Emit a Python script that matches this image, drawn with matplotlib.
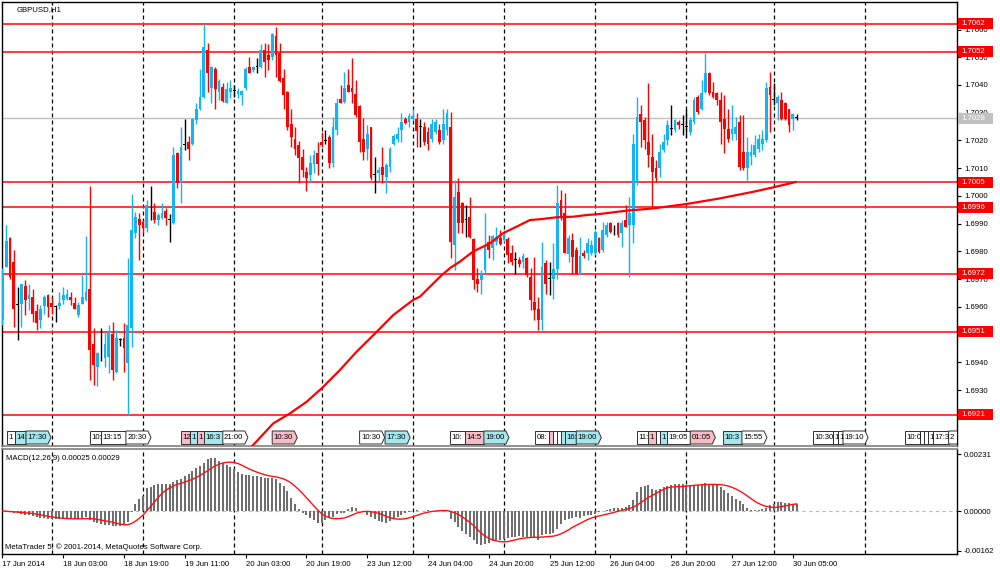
import matplotlib
matplotlib.use('Agg')
import matplotlib.pyplot as plt
from matplotlib.patches import Rectangle, Polygon
from matplotlib.transforms import blended_transform_factory
import numpy as np
import pandas as pd

plt.rcParams['font.family'] = ['Liberation Sans', 'DejaVu Sans']

# ---------------- data ----------------
symbol_title = "GBPUSD,H1"
macd_title = "MACD(12,26,9) 0.00025 0.00029"
copyright_text = "MetaTrader 5, \u00a9 2001-2014, MetaQuotes Software Corp."

opens = [1.69552,1.69744,1.69847,1.69763,1.69606,1.69612,1.69675,1.69630,1.69636,1.69586,
1.69552,1.69603,1.69642,1.69615,1.69600,1.69603,1.69624,1.69630,1.69636,1.69615,
1.69570,1.69612,1.69624,1.69663,1.69466,1.69382,1.69414,1.69414,1.69420,1.69502,
1.69366,1.69480,1.69486,1.69396,1.69522,1.69865,1.69915,1.69907,1.69883,1.69955,
1.69943,1.69913,1.69919,1.69946,1.69913,1.69901,1.70156,1.70045,1.70183,1.70195,
1.70187,1.70273,1.70315,1.70355,1.70528,1.70388,1.70456,1.70376,1.70394,1.70336,
1.70376,1.70379,1.70367,1.70364,1.70388,1.70466,1.70454,1.70466,1.70466,1.70526,
1.70508,1.70502,1.70576,1.70516,1.70427,1.70376,1.70259,1.70207,1.70183,1.70139,
1.70087,1.70075,1.70115,1.70156,1.70195,1.70199,1.70213,1.70120,1.70237,1.70348,
1.70340,1.70400,1.70388,1.70367,1.70324,1.70207,1.70171,1.70247,1.70075,1.70083,
1.70105,1.70069,1.70105,1.70187,1.70204,1.70237,1.70276,1.70267,1.70276,1.70276,
1.70249,1.70249,1.70231,1.70207,1.70231,1.70237,1.70201,1.70237,1.70250,1.69823,
1.70015,1.69975,1.69913,1.69925,1.69843,1.69702,1.69696,1.69733,1.69835,1.69811,
1.69835,1.69847,1.69841,1.69843,1.69793,1.69769,1.69769,1.69763,1.69775,1.69708,
1.69618,1.69591,1.69552,1.69759,1.69702,1.69702,1.69738,1.69985,1.69937,1.69790,
1.69841,1.69805,1.69714,1.69795,1.69793,1.69795,1.69793,1.69847,1.69805,1.69859,
1.69903,1.69879,1.69903,1.69865,1.69913,1.69895,1.69895,1.70045,1.70295,1.70273,
1.70195,1.70141,1.70099,1.70099,1.70165,1.70201,1.70243,1.70237,1.70267,1.70255,
1.70249,1.70231,1.70267,1.70355,1.70315,1.70376,1.70442,1.70376,1.70370,1.70346,
1.70279,1.70243,1.70225,1.70225,1.70267,1.70159,1.70099,1.70144,1.70147,1.70171,
1.70189,1.70201,1.70394,1.70346,1.70334,1.70346,1.70334,1.70312,1.70276,1.70280]

highs = [1.69739,1.69895,1.69853,1.69805,1.69672,1.69684,1.69697,1.69684,1.69666,1.69612,
1.69606,1.69642,1.69648,1.69636,1.69606,1.69654,1.69672,1.69666,1.69654,1.69636,
1.69618,1.69714,1.69855,1.70035,1.69522,1.69438,1.69522,1.69510,1.69534,1.69546,
1.69516,1.69486,1.69543,1.69775,1.70007,1.69943,1.69937,1.69913,1.69985,1.70035,
1.69975,1.69939,1.69975,1.69955,1.69934,1.70177,1.70159,1.70250,1.70276,1.70216,
1.70280,1.70336,1.70456,1.70620,1.70550,1.70468,1.70466,1.70420,1.70408,1.70412,
1.70418,1.70400,1.70388,1.70382,1.70466,1.70500,1.70468,1.70496,1.70547,1.70550,
1.70547,1.70586,1.70608,1.70552,1.70456,1.70379,1.70315,1.70249,1.70199,1.70171,
1.70105,1.70147,1.70165,1.70195,1.70231,1.70237,1.70219,1.70285,1.70352,1.70400,
1.70448,1.70456,1.70496,1.70418,1.70328,1.70280,1.70255,1.70249,1.70139,1.70105,
1.70177,1.70120,1.70177,1.70225,1.70247,1.70298,1.70285,1.70298,1.70315,1.70298,
1.70276,1.70267,1.70249,1.70276,1.70276,1.70261,1.70315,1.70315,1.70303,1.70057,
1.70063,1.69979,1.69967,1.69997,1.69847,1.69739,1.69733,1.69937,1.69859,1.69859,
1.69889,1.69877,1.69877,1.69853,1.69823,1.69799,1.69781,1.69793,1.69781,1.69739,
1.69781,1.69636,1.69835,1.69769,1.69763,1.69829,1.70039,1.70021,1.70009,1.69859,
1.69865,1.69817,1.69853,1.69805,1.69847,1.69841,1.69877,1.69853,1.69907,1.69907,
1.69907,1.69895,1.69907,1.69913,1.69967,1.69997,1.70225,1.70358,1.70328,1.70285,
1.70408,1.70225,1.70129,1.70189,1.70225,1.70273,1.70328,1.70279,1.70273,1.70291,
1.70315,1.70285,1.70358,1.70364,1.70418,1.70514,1.70448,1.70412,1.70376,1.70376,
1.70364,1.70315,1.70328,1.70285,1.70291,1.70291,1.70213,1.70189,1.70219,1.70225,
1.70237,1.70412,1.70448,1.70406,1.70364,1.70376,1.70340,1.70315,1.70298,1.70295]

lows = [1.69534,1.69744,1.69702,1.69528,1.69480,1.69528,1.69570,1.69588,1.69546,1.69516,
1.69522,1.69576,1.69564,1.69576,1.69546,1.69594,1.69612,1.69624,1.69606,1.69591,
1.69564,1.69610,1.69622,1.69336,1.69318,1.69314,1.69406,1.69384,1.69360,1.69336,
1.69360,1.69458,1.69366,1.69210,1.69456,1.69847,1.69769,1.69865,1.69871,1.69913,
1.69901,1.69895,1.69915,1.69895,1.69835,1.69898,1.70027,1.69975,1.70165,1.70129,
1.70183,1.70261,1.70310,1.70352,1.70376,1.70334,1.70315,1.70346,1.70340,1.70334,
1.70352,1.70358,1.70352,1.70328,1.70382,1.70442,1.70448,1.70444,1.70463,1.70430,
1.70454,1.70490,1.70430,1.70412,1.70315,1.70237,1.70177,1.70147,1.70045,1.70069,
1.70019,1.70045,1.70081,1.70075,1.70177,1.70187,1.70099,1.70105,1.70219,1.70334,
1.70334,1.70376,1.70334,1.70285,1.70159,1.70129,1.70129,1.70059,1.70009,1.70051,
1.70047,1.70009,1.70087,1.70183,1.70195,1.70195,1.70261,1.70250,1.70273,1.70177,
1.70177,1.70183,1.70165,1.70195,1.70225,1.70189,1.70189,1.70219,1.69775,1.69733,
1.69865,1.69865,1.69853,1.69847,1.69666,1.69654,1.69648,1.69720,1.69775,1.69769,
1.69823,1.69823,1.69835,1.69757,1.69751,1.69720,1.69745,1.69739,1.69708,1.69588,
1.69552,1.69516,1.69516,1.69648,1.69642,1.69630,1.69702,1.69913,1.69793,1.69763,
1.69720,1.69720,1.69714,1.69775,1.69769,1.69787,1.69787,1.69793,1.69799,1.69853,
1.69865,1.69859,1.69853,1.69817,1.69889,1.69708,1.69829,1.70039,1.70177,1.70171,
1.70105,1.69955,1.70051,1.70069,1.70159,1.70183,1.70219,1.70231,1.70243,1.70219,
1.70213,1.70219,1.70261,1.70297,1.70310,1.70370,1.70364,1.70352,1.70328,1.70189,
1.70153,1.70195,1.70201,1.70201,1.70093,1.70093,1.70057,1.70111,1.70141,1.70159,
1.70165,1.70195,1.70231,1.70328,1.70273,1.70273,1.70273,1.70231,1.70237,1.70273]

closes = [1.69720,1.69838,1.69708,1.69594,1.69606,1.69682,1.69624,1.69642,1.69576,1.69543,
1.69594,1.69636,1.69600,1.69598,1.69600,1.69615,1.69642,1.69646,1.69624,1.69594,
1.69606,1.69634,1.69654,1.69444,1.69390,1.69434,1.69414,1.69466,1.69510,1.69372,
1.69486,1.69480,1.69450,1.69534,1.69877,1.69925,1.69895,1.69883,1.69967,1.69955,
1.69913,1.69931,1.69937,1.69922,1.69913,1.70147,1.70045,1.70177,1.70183,1.70171,
1.70276,1.70315,1.70358,1.70538,1.70444,1.70466,1.70384,1.70415,1.70343,1.70385,
1.70388,1.70379,1.70379,1.70378,1.70456,1.70442,1.70466,1.70466,1.70528,1.70484,
1.70490,1.70584,1.70508,1.70415,1.70364,1.70247,1.70213,1.70171,1.70135,1.70093,
1.70063,1.70117,1.70147,1.70115,1.70183,1.70199,1.70117,1.70247,1.70336,1.70336,
1.70388,1.70376,1.70376,1.70291,1.70195,1.70159,1.70225,1.70063,1.70075,1.70095,
1.70075,1.70111,1.70171,1.70216,1.70225,1.70267,1.70264,1.70288,1.70288,1.70235,
1.70249,1.70195,1.70189,1.70261,1.70267,1.70195,1.70261,1.70298,1.69835,1.69997,
1.69901,1.69901,1.69913,1.69853,1.69696,1.69684,1.69720,1.69817,1.69805,1.69855,
1.69853,1.69826,1.69859,1.69787,1.69763,1.69769,1.69754,1.69783,1.69714,1.69624,
1.69588,1.69552,1.69744,1.69682,1.69702,1.69735,1.69975,1.69925,1.69793,1.69847,
1.69781,1.69720,1.69783,1.69783,1.69829,1.69823,1.69871,1.69799,1.69877,1.69895,
1.69871,1.69879,1.69859,1.69903,1.69889,1.69937,1.70189,1.70285,1.70267,1.70201,
1.70147,1.70087,1.70063,1.70159,1.70195,1.70255,1.70243,1.70273,1.70255,1.70255,
1.70249,1.70273,1.70346,1.70303,1.70370,1.70442,1.70370,1.70358,1.70346,1.70267,
1.70243,1.70204,1.70243,1.70249,1.70105,1.70099,1.70159,1.70159,1.70183,1.70207,
1.70207,1.70388,1.70364,1.70346,1.70355,1.70276,1.70276,1.70255,1.70295,1.70280]

# moving average line vertices (bar index, price)
ma_bar = [65.6, 71.3, 75.7, 80.1, 84.0, 88.8, 93.2, 98.5, 102.9, 108.1, 109.9, 115.2, 117.8,
          120.4, 123.8, 128.3, 131.7, 135.3, 138.8, 141.5, 145.9, 150.2, 153.7, 157.3, 164.3,
          171.3, 180.1, 188.8, 197.6, 202.9, 209.0]
ma_price = [1.69096, 1.69180, 1.69216, 1.69258, 1.69306, 1.69372, 1.69438, 1.69510, 1.69571,
            1.69625, 1.69637, 1.69709, 1.69740, 1.69763, 1.69799, 1.69829, 1.69865, 1.69889,
            1.69913, 1.69916, 1.69923, 1.69925, 1.69931, 1.69935, 1.69947, 1.69955, 1.69971,
            1.69991, 1.70015, 1.70031, 1.70051]

# MACD main values (units of 0.00001)
macd_main_e5 = [1,-3,-4,-7,-10,-12,-16,-18,-20,-26,-30,-30,-31,-34,-34,-33,-31,-30,-31,-33,
-31,-27,-26,-36,-45,-50,-54,-57,-58,-60,-61,-61,-58,-45,-3,
27,48,61,95,98,106,109,109,109,112,120,125,132,143,152,163,174,184,197,211,218,215,204,197,
188,180,170,160,150,147,146,143,143,139,136,136,133,129,116,102,82,52,27,7,-7,-16,-27,-38,
-48,-48,-38,-30,-24,-14,-7,
-7,7,15,11,1,-3,-16,-26,-34,-39,-44,-48,-39,-30,-23,-16,-10,-4,1,4,1,1,4,1,1,4,1,0,
-31,-45,-65,-82,-92,-106,-117,-136,-140,-136,
-131,-122,-120,-117,-113,-109,-106,-106,-103,-106,
-106,-106,-109,-117,-99,-95,-95,-90,-72,-54,
-38,-31,-27,-24,-27,-22,-18,-18,-11,-4,
0,5,8,14,14,14,16,23,46,78,
98,103,105,91,87,91,98,101,105,109,
109,109,105,105,105,107,109,114,112,112,
107,98,84,73,60,50,41,27,14,5,
3,5,10,14,23,27,37,37,33,33,
30,27]

levels = [1.7062, 1.7052, 1.7005, 1.6996, 1.6972, 1.6951, 1.6921]
bid_price = 1.7028
price_ticks = [1.6920, 1.6930, 1.6940, 1.6950, 1.6960, 1.6970, 1.6980, 1.6990,
               1.7000, 1.7010, 1.7020, 1.7030, 1.7040, 1.7050, 1.7060]
macd_ticks = [0.00231, 0.0, -0.00162]

day_separators = [13, 37, 61, 84, 108, 132, 156, 180, 203, 227]
time_label_bars = [0, 16, 32, 48, 64, 80, 96, 112, 128, 144, 160, 176, 192, 208]
time_labels = ["17 Jun 2014", "18 Jun 03:00", "18 Jun 19:00", "19 Jun 11:00", "20 Jun 03:00",
               "20 Jun 19:00", "23 Jun 12:00", "24 Jun 04:00", "24 Jun 20:00", "25 Jun 12:00",
               "26 Jun 04:00", "26 Jun 20:00", "27 Jun 12:00", "30 Jun 05:00"]

event_bars = [1.2, 3.3, 6.2, 23.0, 26.0, 32.5, 47.0, 49.4, 51.2, 53.0, 58.0, 71.0, 94.0, 100.7,
              117.8, 121.7, 126.7, 140.2, 143.8, 144.9, 145.9, 146.9, 148.0, 151.0, 167.0, 169.9,
              172.0, 173.0, 174.9, 181.0, 189.6, 194.6, 213.3, 218.6, 219.9, 221.2, 237.5, 241.5,
              242.6, 243.7, 245.0, 249.0]
event_texts = ["12:30", "14:00", "17:30", "10:00", "13:15", "20:30", "12:00", "14:00", "15:00",
               "16:30", "21:00", "10:30", "10:30", "17:30", "10:00", "14:55", "19:00", "08:00",
               "12:00", "13:00", "14:00", "15:00", "16:00", "19:00", "11:00", "13:30", "15:00",
               "16:00", "19:05", "01:05", "10:30", "15:55", "10:30", "16:00", "17:00", "19:10",
               "10:00", "14:00", "15:00", "16:00", "17:30", "22:00"]
event_kinds = ["w", "c", "c", "w", "w", "w", "p", "c", "p", "c", "w", "p", "w", "c", "w", "p",
               "c", "w", "p", "w", "w", "c", "c", "c", "w", "p", "w", "c", "w", "p", "c", "w",
               "w", "w", "w", "w", "w", "w", "w", "w", "w", "w"]

# ---------------- figure ----------------
W, H = 1000, 574
fig = plt.figure(figsize=(W / 100, H / 100), dpi=100)
fig.patch.set_facecolor('white')

def fx(px):
    return px / W

def fy(py):
    return 1 - py / H

ax = fig.add_axes([fx(2), fy(446), fx(957) - fx(2), fy(2) - fy(446)])
ax2 = fig.add_axes([fx(2), fy(554), fx(957) - fx(2), fy(449) - fy(554)], sharex=ax)

FS = 5.6
BLUE = '#12b4f4'
RED = '#ff0000'

n = len(closes)
idx = np.arange(n)
O = np.array(opens); Hh = np.array(highs); L = np.array(lows); C = np.array(closes)
cols = np.where(C > O, BLUE, np.where(C < O, RED, 'black'))

XMIN, XMAX = -0.1, 251.2
ax.set_xlim(XMIN, XMAX)
ax.set_ylim(1.690982, 1.706993)
ax2.set_ylim(-0.001755, 0.002531)

# separators
for d in day_separators:
    for a in (ax, ax2):
        a.axvline(d, color='black', lw=0.9, ls=(0, (3.2, 2.4)), zorder=1)

# level lines
for lv in levels:
    ax.axhline(lv, color='#ff2a2a', lw=1.3, zorder=2)
ax.axhline(bid_price, color='#c0c0c0', lw=1.0, zorder=1.5)

# candles
ax.vlines(idx, L, Hh, colors=cols, lw=1.0, zorder=3)
body_h = np.maximum(np.abs(C - O), 0.00003)
body_b = np.minimum(O, C)
ax.bar(idx, body_h, bottom=body_b, width=0.74, color=cols, linewidth=0, zorder=3.1)

# moving average
ax.plot(ma_bar, ma_price, color='#ff0000', lw=1.6, zorder=4, solid_capstyle='butt')

# event boxes
tr_ev = blended_transform_factory(ax.transData, ax.transAxes)
kind_color = {'w': '#ffffff', 'c': '#a4e8ee', 'p': '#f8bcc6'}
full_w = 6.6
tip = 0.8
y0, y1 = 0.0045, 0.0338
ym = (y0 + y1) / 2
renderer = fig.canvas.get_renderer()
px_per_bar = (fx(957) - fx(2)) * W / (XMAX - XMIN)
for k, (b, t, kd) in enumerate(zip(event_bars, event_texts, event_kinds)):
    nxt = event_bars[k + 1] if k + 1 < len(event_bars) else None
    if nxt is None or nxt - b >= full_w:
        w = full_w
        pts = [(b, y0), (b + w - tip, y0), (b + w, ym), (b + w - tip, y1), (b, y1)]
        avail = w - tip * 0.4
    else:
        w = nxt - b
        pts = [(b, y0), (b + w, y0), (b + w, y1), (b, y1)]
        avail = w
    avail = min(b + avail, XMAX) - b
    poly = Polygon(pts, closed=True, transform=tr_ev, facecolor=kind_color[kd],
                   edgecolor='#303030', lw=0.7, zorder=5)
    ax.add_patch(poly)
    avail_px = (avail - 0.35) * px_per_bar
    s = t
    txt = ax.text(b + 0.35, ym, s, transform=tr_ev, fontsize=FS, ha='left', va='center',
                  color='black', zorder=6)
    while s and txt.get_window_extent(renderer).width > avail_px + 1.5:
        s = s[:-1]
        txt.set_text(s)
    if not s:
        txt.remove()

# MACD panel
macd_main = np.array(macd_main_e5) * 1e-5
signal = pd.Series(macd_main).rolling(9, min_periods=1).mean().values
ax2.axhline(0, color='#b8b8b8', lw=0.8, ls=(0, (3, 3)), zorder=0.5)
ax2.bar(idx, macd_main, width=0.5, color='#6e6e6e', linewidth=0, zorder=2)
ax2.plot(idx, signal, color='#ff1010', lw=1.0, zorder=3)

# axes styling
for a in (ax, ax2):
    a.set_facecolor('white')
    for s_ in a.spines.values():
        s_.set_color('black')
        s_.set_linewidth(1.0)
ax.spines['bottom'].set_color('#808080')
ax2.spines['top'].set_color('#808080')
ax.spines['bottom'].set_linewidth(1.2)
ax2.spines['top'].set_linewidth(1.2)

ax.tick_params(axis='x', which='both', bottom=False, labelbottom=False)
ax.yaxis.tick_right()
ax.set_yticks(price_ticks)
ax.set_yticklabels(['%.4f' % v for v in price_ticks])
ax.tick_params(axis='y', length=3, width=0.8, pad=2, labelsize=FS, colors='black')

ax2.yaxis.tick_right()
ax2.set_yticks(macd_ticks)
ax2.set_yticklabels(['%.5f' % v for v in macd_ticks])
ax2.tick_params(axis='y', length=3, width=0.8, pad=2, labelsize=FS, colors='black')

ax2.set_xticks(time_label_bars)
ax2.set_xticklabels(time_labels)
ax2.tick_params(axis='x', length=3, width=0.8, pad=2, labelsize=FS, colors='black')
for lbl in ax2.get_xticklabels():
    lbl.set_ha('left')

# right-side level labels
tr_r = blended_transform_factory(fig.transFigure, ax.transData)
box_h = 11 / 27730
for lv in levels:
    ax.add_patch(Rectangle((fx(958), lv - box_h / 2), fx(35), box_h, transform=tr_r,
                           facecolor='#ff0000', edgecolor='none', clip_on=False, zorder=7))
    ax.text(fx(961.5), lv, '%.4f' % lv, transform=tr_r, fontsize=FS, color='white',
            ha='left', va='center', clip_on=False, zorder=8)
ax.add_patch(Rectangle((fx(958), bid_price - box_h / 2), fx(35), box_h, transform=tr_r,
                       facecolor='#c0c0c0', edgecolor='none', clip_on=False, zorder=7))
ax.text(fx(961.5), bid_price, '%.4f' % bid_price, transform=tr_r, fontsize=FS, color='white',
        ha='left', va='center', clip_on=False, zorder=8)

# titles
fig.text(fx(16.5), fy(9.7), symbol_title, fontsize=FS, ha='left', va='center', color='black')
fig.text(fx(6.5), fy(458), macd_title, fontsize=FS, ha='left', va='center', color='black')
fig.text(fx(5), fy(547.5), copyright_text, fontsize=FS, ha='left', va='center', color='black')

fig.savefig('out.png', dpi=100, facecolor='white')
